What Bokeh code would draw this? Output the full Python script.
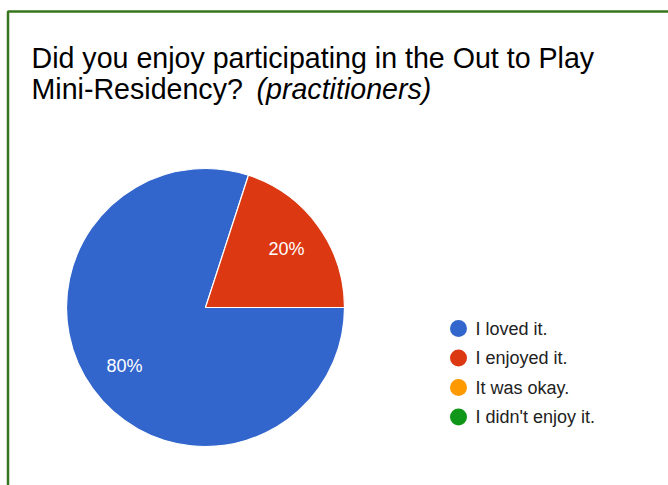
import math
from bokeh.plotting import figure
from bokeh.models import Range1d, BoxAnnotation, ColumnDataSource
from bokeh.core.properties import value
from bokeh.embed import file_html
from bokeh.resources import INLINE

# ---- data ----
categories = ["I loved it.", "I enjoyed it.", "It was okay.", "I didn't enjoy it."]
shares = [80, 20, 0, 0]
colors = ["#3366cc", "#dc3912", "#ff9900", "#109618"]
title_line1 = "Did you enjoy participating in the Out to Play"
title_line2 = "Mini-Residency? "
title_italic = "(practitioners)"

W, H = 668, 485
p = figure(width=W, height=H, output_backend="svg", toolbar_location=None,
           x_range=Range1d(0, W), y_range=Range1d(0, H),
           min_border=0, outline_line_color=None)
p.axis.visible = False
p.grid.visible = False
p.background_fill_color = "white"
p.border_fill_color = "white"

def Y(fig_y):
    return H - fig_y

FONT = value("Liberation Sans")

# border (decoration)
p.add_layout(BoxAnnotation(left=7.5, right=W + 50, top=Y(11), bottom=-50,
                           fill_color=None, fill_alpha=0, line_color="#38761d",
                           line_alpha=1.0, line_width=2.5))

# title
p.text(x=[31], y=[Y(57)], text=[title_line1], text_font=FONT, text_font_size="28.6px",
       text_color="#000000", text_baseline="alphabetic", text_align="left")
p.text(x=[31], y=[Y(88)], text=[title_line2], text_font=FONT, text_font_size="28.6px",
       text_color="#000000", text_baseline="alphabetic", text_align="left")
p.text(x=[256], y=[Y(88)], text=[title_italic], text_font=FONT, text_font_size="28.6px",
       text_font_style="italic", text_color="#000000", text_baseline="alphabetic", text_align="left")

# pie
cx, cy, r = 205, Y(307), 139
total = sum(shares)
starts, ends, cols, lx, ly, labels = [], [], [], [], [], []
cum = 0.0
for s, c in zip(shares, colors):
    f0 = cum / total
    cum += s
    f1 = cum / total
    if s <= 0:
        continue
    a_start = -f1 * 2 * math.pi
    a_end = -f0 * 2 * math.pi
    starts.append(a_start)
    ends.append(a_end)
    cols.append(c)
    mid = (a_start + a_end) / 2
    lx.append(cx + 0.72 * r * math.cos(mid))
    ly.append(cy + 0.72 * r * math.sin(mid))
    labels.append(f"{round(100 * s / total)}%")

src = ColumnDataSource(dict(start=starts, end=ends, color=cols))
p.wedge(x=cx, y=cy, radius=r, radius_units="screen", start_angle="start", end_angle="end",
        fill_color="color", line_color="white", line_width=1.2, source=src)
p.text(x=lx, y=ly, text=labels, text_font=FONT, text_font_size="18px", text_color="white",
       text_align="center", text_baseline="middle")

# legend
leg_y = [Y(328 + 29.5 * i) for i in range(len(categories))]
p.scatter(x=[458] * len(categories), y=leg_y, size=17, marker="circle",
          fill_color=colors, line_color=None)
p.text(x=[475] * len(categories), y=leg_y, text=categories, text_font=FONT,
       text_font_size="18px", text_color="#222222", text_align="left", text_baseline="middle")

open("out.html", "w").write(file_html(p, INLINE))
